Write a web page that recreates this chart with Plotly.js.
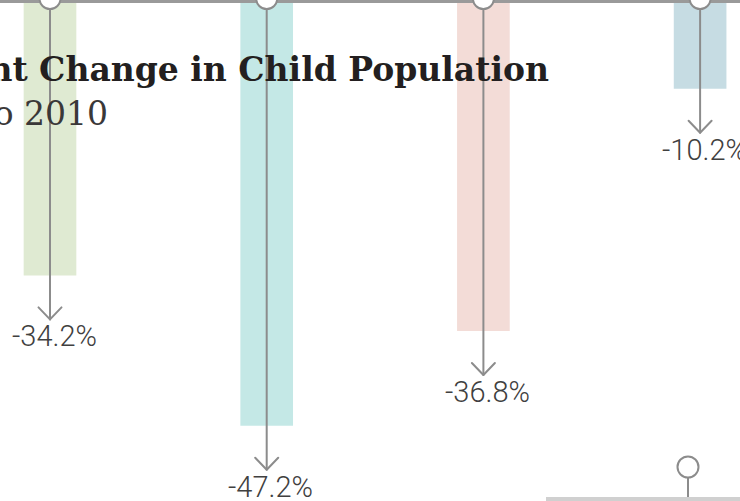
<!DOCTYPE html>
<html><head><meta charset="utf-8">
<script src="https://cdn.plot.ly/plotly-3.0.1.min.js"></script>
<style>
html,body{margin:0;padding:0;background:#fff;overflow:hidden;width:740px;height:501px}
#chart{width:740px;height:511px;margin-top:-10px}
.scatterlayer .js-line{stroke-linejoin:round;stroke-linecap:round}
</style>
</head><body><div id="chart"></div>
<script>
// ---- data ----
const categories = ['Category 1', 'Category 2', 'Category 3', 'Category 4'];
const pctChange = [-34.2, -47.2, -36.8, -10.2];          // labelled values
const barDepth = [-30.7, -47.2, -36.8, -10.2];            // bar lengths as drawn in the picture
const pctLabels = ['-34.2%', '-47.2%', '-36.8%', '-10.2%'];
const barColors = ['#dfead2', '#c4e8e6', '#f3dcd7', '#c6dce3'];
const titleText = 'Percent Change in Child Population';
const subtitleText = '2000 to 2010';

// ---- scale / style constants ----
const W = 740, H = 501, OFF = 10, HL = H + OFF;   // plot extends 10px above the visible page
const PX_PER_UNIT = 9.108, ZERO_PX = -4.2;         // visible-page y pixel of value 0
const X_STEP = 216.7, X0_PX = 50;
const yFromPx = px => -(px - ZERO_PX) / PX_PER_UNIT;
const paperY = px => 1 - (px + OFF) / HL;
const Y_RANGE = [yFromPx(H), yFromPx(-OFF)];
const X_RANGE = [-X0_PX / X_STEP, (W - X0_PX) / X_STEP];
const BASE_Y = yFromPx(1.5);
const CIRCLE_Y = yFromPx(-1.5);
const ARROW_EXT = 44 / PX_PER_UNIT;
const CHEV_W = 11.5 / X_STEP, CHEV_H = 12 / PX_PER_UNIT;
const GREY = '#8c8c8c';

const xIdx = categories.map((c, i) => i);

const bars = {
  type: 'bar', x: xIdx, y: barDepth, width: 0.243,
  marker: {color: barColors, line: {width: 0}},
  hoverinfo: 'skip', showlegend: false
};

const baseLine = {
  type: 'scatter', mode: 'lines', x: X_RANGE, y: [BASE_Y, BASE_Y],
  line: {color: '#9a9a9a', width: 3},
  hoverinfo: 'skip', showlegend: false
};

const ax = [], ay = [];
xIdx.forEach((i, k) => {
  const tip = barDepth[k] - ARROW_EXT;
  ax.push(i, i, null, i - CHEV_W, i, i + CHEV_W, null);
  ay.push(BASE_Y, tip, null, tip + CHEV_H, tip, tip + CHEV_H, null);
});
const arrows = {
  type: 'scatter', mode: 'lines', x: ax, y: ay, connectgaps: false,
  line: {color: GREY, width: 2}, hoverinfo: 'skip', showlegend: false
};

const circles = {
  type: 'scatter', mode: 'markers', x: xIdx, y: xIdx.map(() => CIRCLE_Y),
  marker: {symbol: 'circle', size: 21, color: '#ffffff', line: {color: GREY, width: 2}},
  cliponaxis: false, hoverinfo: 'skip', showlegend: false
};

const annotations = [
  {xref: 'paper', yref: 'paper', x: 551 / W, y: paperY(69), xanchor: 'right', yanchor: 'middle',
   text: '<b>' + titleText + '</b>', showarrow: false,
   font: {family: 'DejaVu Serif', size: 33, color: '#231f20'}},
  {xref: 'paper', yref: 'paper', x: 110 / W, y: paperY(113), xanchor: 'right', yanchor: 'middle',
   text: subtitleText, showarrow: false,
   font: {family: 'DejaVu Serif', size: 33, color: '#3a3838'}}
];
xIdx.forEach((i, k) => {
  annotations.push({
    xref: 'x', yref: 'y', x: i, y: barDepth[k] - ARROW_EXT, xanchor: 'center', yanchor: 'middle',
    xshift: 4, yshift: -17, text: pctLabels[k], showarrow: false,
    font: {family: 'Roboto', size: 29, weight: 300, color: '#404040'}
  });
});

const shapes = [
  {type: 'line', xref: 'paper', yref: 'paper', x0: 546 / W, x1: 1, y0: paperY(499), y1: paperY(499),
   line: {color: '#d0d0d0', width: 4}},
  {type: 'line', xref: 'paper', yref: 'paper', x0: 688 / W, x1: 688 / W, y0: paperY(477), y1: paperY(497),
   line: {color: GREY, width: 2}},
  {type: 'circle', xref: 'paper', yref: 'paper', x0: 677.5 / W, x1: 698.5 / W, y0: paperY(477.5), y1: paperY(456.5),
   fillcolor: '#ffffff', line: {color: GREY, width: 2}}
];

const hidden = {showgrid: false, zeroline: false, showticklabels: false, showline: false, ticks: '', fixedrange: true};
const layout = {
  width: W, height: HL, margin: {l: 0, r: 0, t: 0, b: 0},
  paper_bgcolor: '#ffffff', plot_bgcolor: '#ffffff',
  xaxis: Object.assign({range: X_RANGE, tickvals: xIdx, ticktext: categories}, hidden),
  yaxis: Object.assign({range: Y_RANGE}, hidden),
  showlegend: false, annotations: annotations, shapes: shapes
};

Plotly.newPlot('chart', [bars, baseLine, arrows, circles], layout, {staticPlot: true});
</script>
</body></html>
